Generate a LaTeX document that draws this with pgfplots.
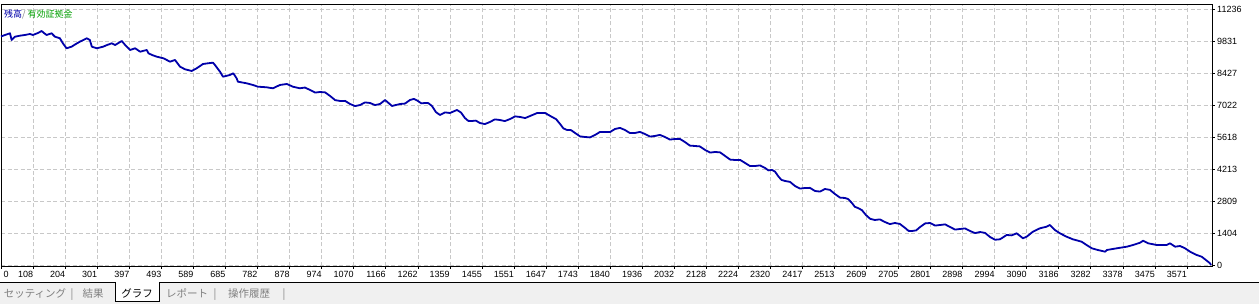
\documentclass[border=0pt]{standalone}
\usepackage{fontspec}
\setmainfont{Liberation Sans}
\newfontfamily\jp{Noto Sans CJK JP}
\usepackage{pgfplots}
\pgfplotsset{compat=1.18}
\definecolor{bal}{RGB}{0,0,170}
\definecolor{eqg}{RGB}{0,160,0}
\definecolor{gridc}{RGB}{200,200,200}
\definecolor{tabbg}{RGB}{240,240,240}
\definecolor{tabtx}{RGB}{128,128,128}
\pgfplotstableread{
x y
0 10029
12 10095
27 10169
32 9875
42 10020
57 10064
72 10095
87 10139
96 10095
111 10182
122 10270
129 10182
137 10095
152 10169
162 10020
177 9950
186 9730
197 9511
212 9581
225 9700
237 9801
258 9950
267 9875
273 9581
288 9511
307 9581
319 9656
333 9730
343 9656
363 9831
373 9656
388 9436
403 9511
418 9362
438 9436
443 9291
454 9217
468 9142
488 9072
508 8923
523 8997
538 8703
553 8589
573 8515
588 8633
607 8822
622 8853
637 8879
643 8778
658 8484
667 8264
688 8339
698 8414
708 8194
712 8045
738 7975
757 7900
772 7826
798 7799
817 7755
838 7900
859 7944
877 7826
898 7755
913 7788
929 7681
944 7567
959 7593
974 7575
989 7417
1004 7237
1019 7198
1034 7202
1049 7066
1064 6974
1079 7022
1094 7136
1109 7110
1124 7018
1139 7066
1154 7242
1175 6979
1199 7066
1214 7084
1229 7242
1241 7290
1253 7198
1263 7094
1274 7110
1284 7104
1295 6979
1307 6711
1319 6584
1334 6697
1349 6671
1370 6803
1382 6697
1394 6452
1404 6326
1415 6320
1427 6336
1439 6232
1454 6184
1469 6276
1484 6390
1499 6364
1514 6316
1530 6408
1545 6522
1560 6496
1575 6448
1590 6540
1612 6675
1635 6671
1656 6496
1668 6402
1680 6188
1690 5996
1701 5925
1713 5919
1725 5793
1740 5645
1755 5618
1770 5600
1785 5706
1800 5840
1815 5837
1830 5833
1845 5969
1860 6017
1875 5925
1890 5789
1905 5793
1920 5841
1935 5750
1950 5636
1965 5662
1980 5710
1995 5618
2010 5504
2025 5530
2040 5534
2055 5398
2070 5240
2085 5223
2100 5205
2116 5047
2131 4933
2146 4960
2161 4942
2176 4784
2191 4626
2206 4608
2221 4612
2236 4477
2251 4341
2266 4345
2281 4371
2296 4257
2306 4153
2317 4170
2326 4098
2335 3906
2345 3736
2356 3687
2371 3647
2386 3467
2401 3353
2416 3380
2431 3384
2446 3248
2461 3222
2476 3336
2491 3296
2506 3116
2521 2958
2536 2941
2546 2891
2557 2721
2566 2551
2575 2502
2587 2408
2599 2195
2612 2025
2626 1975
2641 2001
2656 1887
2671 1795
2686 1843
2701 1803
2717 1624
2727 1498
2738 1492
2750 1520
2762 1668
2777 1825
2792 1843
2807 1730
2822 1756
2837 1782
2852 1668
2867 1554
2882 1580
2897 1606
2912 1492
2927 1400
2942 1448
2957 1408
2972 1229
2987 1108
3002 1128
3022 1317
3037 1300
3052 1391
3071 1172
3082 1242
3101 1462
3122 1611
3142 1681
3152 1756
3167 1536
3182 1391
3202 1242
3221 1128
3247 1023
3262 878
3278 733
3296 658
3318 584
3323 658
3353 733
3383 803
3402 878
3423 979
3432 1067
3447 952
3473 878
3503 878
3513 952
3528 803
3543 834
3558 733
3573 584
3593 439
3608 364
3618 250
3633 75
3636 0
}\balance
\begin{document}
\begin{tikzpicture}[x=1pt,y=1pt]
\useasboundingbox (0,0) rectangle (1259,304);
\fill[white] (0,0) rectangle (1259,304);
\fill[tabbg] (0,0) rectangle (1259,21.5);
\draw[black, line width=0.8pt] (0,22) -- (1259,22);
\draw[black, line width=0.8pt, fill=white] (115.7,22) -- (115.7,2.5) -- (159,2.5) -- (159,22);
\begin{axis}[
  at={(1pt,38pt)}, anchor=south west, scale only axis,
  width=1211pt, height=262pt,
  xmin=0, xmax=3639, ymin=-44, ymax=11455,
  scaled y ticks=false, scaled x ticks=false,
  axis line style={line width=0.8pt},
  xtick={97.2,193.5,...,3565},
  xticklabels={108,204,301,397,493,589,685,782,878,974,1070,1166,1262,1359,1455,1551,1647,1743,1840,1936,2032,2128,2224,2320,2417,2513,2609,2705,2801,2898,2994,3090,3186,3282,3378,3475,3571},
  extra x ticks={0.9}, extra x tick labels={0},
  extra x tick style={grid=none, xticklabel style={anchor=north west, xshift=2pt}},
  ytick={0,1404.5,...,11237},
  yticklabels={0,1404,2809,4213,5618,7022,8427,9831,11236},
  xtick pos=bottom, ytick pos=right, yticklabel pos=right,
  tick align=outside, major tick length=3pt,
  tick style={black, line width=0.8pt},
  xticklabel style={anchor=north east, inner sep=0pt, yshift=-2pt, font=\fontsize{9}{10}\selectfont},
  yticklabel style={anchor=west, inner sep=0pt, xshift=2pt, font=\fontsize{9}{10}\selectfont},
  grid=major,
  major grid style={gridc, dash pattern=on 4pt off 2.5pt, line width=0.8pt},
  clip=false,
]
\addplot[bal, line width=1.8pt, line join=round] table[x=x,y=y] {\balance};
\end{axis}
\node[anchor=base west, inner sep=0pt, font=\jp\fontsize{9}{10}\selectfont] at (4,286) {\textcolor{bal}{残高}\textcolor{tabtx}{ / }\textcolor{eqg}{有効証拠金}};
\begin{scope}[every node/.style={anchor=base, inner sep=0pt, font=\jp\fontsize{10.5}{12}\selectfont, text=tabtx}]
\node at (35,6) {セッティング};
\node at (72,6) {|};
\node at (93,6) {結果};
\node[text=black] at (137,6) {グラフ};
\node at (187,6) {レポート};
\node at (215,6) {|};
\node at (249,6) {操作履歴};
\node at (284,6) {|};
\end{scope}
\end{tikzpicture}
\end{document}
